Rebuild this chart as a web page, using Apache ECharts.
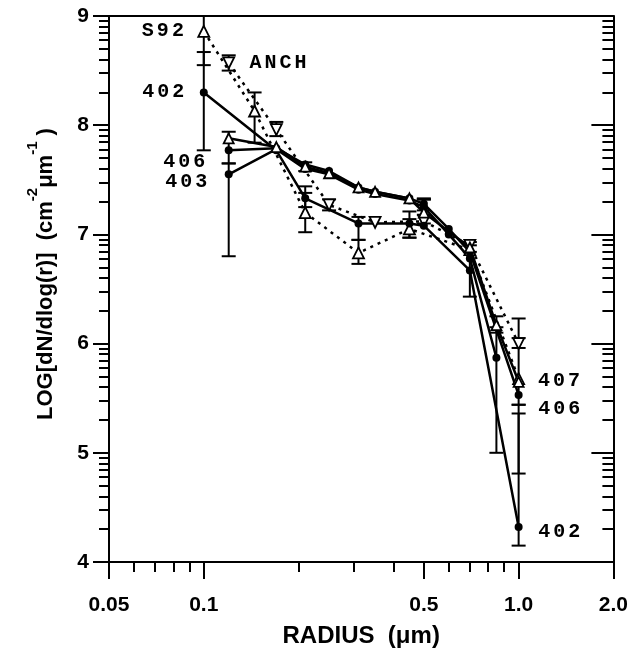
<!DOCTYPE html>
<html>
<head>
<meta charset="utf-8">
<script src="https://cdn.jsdelivr.net/npm/echarts@6.0.0/dist/echarts.min.js"></script>
<style>
  html, body { margin: 0; padding: 0; background: #fff; }
  #chart { width: 631px; height: 654px; }
</style>
</head>
<body>
<div id="chart"></div>
<script>
// axis ticks
const radiusTicks = [0.05, 0.1, 0.5, 1, 2];
const radiusTickLabels = ['0.05', '0.1', '0.5', '1.0', '2.0'];
const radiusMinorTicks = [0.06, 0.07, 0.08, 0.09, 0.2, 0.3, 0.4, 0.6, 0.7, 0.8, 0.9];
const logTicks = [4, 5, 6, 7, 8, 9];

// size distributions [radius um, log dN/dlog(r)]
const s92 = [[0.1, 8.86], [0.145, 8.13], [0.21, 7.2], [0.31, 6.83], [0.45, 7.05], [0.7, 6.86], [1.0, 5.68]];
const anch = [[0.12, 8.57], [0.17, 7.96], [0.25, 7.27], [0.35, 7.11], [0.5, 7.12], [0.7, 6.9], [1.0, 6.0]];
const f402 = [[0.1, 8.30], [0.17, 7.77], [0.21, 7.33], [0.31, 7.10], [0.45, 7.10], [0.5, 7.08], [0.7, 6.67], [1.0, 4.32]];
const f403 = [[0.12, 7.55], [0.17, 7.78], [0.21, 7.60], [0.25, 7.55], [0.31, 7.41], [0.35, 7.37], [0.45, 7.31], [0.5, 7.25], [0.6, 7.0], [0.7, 6.78], [0.85, 5.87]];
const f406 = [[0.12, 7.77], [0.17, 7.79], [0.21, 7.64], [0.25, 7.58], [0.31, 7.43], [0.35, 7.39], [0.45, 7.33], [0.5, 7.28], [0.6, 7.05], [0.7, 6.84], [1.0, 5.53]];
const f407 = [[0.12, 7.88], [0.17, 7.80], [0.21, 7.62], [0.25, 7.56], [0.31, 7.43], [0.35, 7.39], [0.45, 7.33], [0.5, 7.2], [0.7, 6.88], [0.85, 6.17], [1.0, 5.65]];

// error bars [radius, low, high]
const s92Err = [[0.1, 8.55, 9.0], [0.145, 7.84, 8.30], [0.21, 7.02, 7.38], [0.31, 6.73, 6.95], [0.45, 6.97, 7.14]];
const anchErr = [[0.12, 8.50, 8.64], [0.17, 7.90, 8.03], [0.25, 7.22, 7.32], [0.7, 6.84, 6.93], [1.0, 5.96, 6.05]];
const f402Err = [[0.1, 7.77, 8.67], [0.21, 7.25, 7.44], [0.31, 6.95, 7.16], [0.45, 6.97, 7.21], [0.7, 6.43, 6.90], [1.0, 4.15, 5.36]];
const f403Err = [[0.12, 6.80, 7.65], [0.5, 7.18, 7.32], [0.85, 5.00, 6.15]];
const f406Err = [[0.12, 7.65, 7.94], [0.21, 7.58, 7.66], [0.5, 7.22, 7.33], [1.0, 4.81, 5.44]];
const f407Err = [[0.5, 7.10, 7.32], [0.85, 6.10, 6.25], [1.0, 5.44, 6.23]];

// decade-style minor ticks on the log(dN) axis
const logMinorTicks = [];
logTicks.slice(0, -1).forEach(n => {
  for (let k = 2; k <= 9; k++) logMinorTicks.push(n + Math.log10(k));
});

const chart = echarts.init(document.getElementById('chart'));

const tagFont = { fontFamily: 'Liberation Mono', fontWeight: 'bold', fontSize: 20, color: '#000', padding: [0, 1.5, 0, 1.5] };
const spaced = t => t.split('').map(c => '{c|' + c + '}').join('');

// label on first / last point of a curve
function tagged(data, tags) {
  return data.map((p, i) => {
    const t = tags[i === 0 ? 'first' : (i === data.length - 1 ? 'last' : '')];
    if (!t) return p;
    return {
      value: p,
      label: {
        show: true, formatter: spaced(t.text), position: t.pos, distance: t.dist,
        offset: t.off || [0, 0], rich: { c: tagFont }
      }
    };
  });
}

function errRender(params, api) {
  const x = api.value(0);
  const top = api.coord([x, api.value(2)]);
  const bot = api.coord([x, api.value(1)]);
  const w = 7;
  const st = { stroke: '#000', lineWidth: 2 };
  return {
    type: 'group',
    children: [
      { type: 'line', shape: { x1: top[0], y1: top[1], x2: bot[0], y2: bot[1] }, style: st },
      { type: 'line', shape: { x1: top[0] - w, y1: top[1], x2: top[0] + w, y2: top[1] }, style: st },
      { type: 'line', shape: { x1: bot[0] - w, y1: bot[1], x2: bot[0] + w, y2: bot[1] }, style: st }
    ]
  };
}

function errSeries(data) {
  return {
    type: 'custom', renderItem: errRender, data: data, z: 3,
    encode: { x: 0, y: [1, 2] }, silent: true
  };
}

const openMark = { color: '#fff', borderColor: '#000', borderWidth: 1.8 };
const solid = { color: '#000', width: 2.5, type: 'solid' };
const dotted = { color: '#000', width: 2.5, type: [3, 5] };

function curve(name, data, tags, line, symbol, extra) {
  return Object.assign({
    name: name, type: 'line', data: tagged(data, tags), z: 4,
    lineStyle: line, symbol: symbol, symbolSize: 8,
    itemStyle: { color: '#000' }, label: { show: false }
  }, extra || {});
}

const axisLineStyle = { color: '#000', width: 2 };
const tickBase = { lineStyle: { color: '#000', width: 2 } };

chart.setOption({
  animation: false,
  grid: { left: 109, right: 17, top: 16, bottom: 92 },
  xAxis: [
    {
      type: 'log', logBase: 10, min: 0.05, max: 2, position: 'bottom',
      name: 'RADIUS  (μm)', nameLocation: 'middle', nameGap: 62,
      nameTextStyle: { fontFamily: 'Liberation Sans', fontWeight: 'bold', fontSize: 24, color: '#000' },
      axisLine: { show: true, lineStyle: axisLineStyle },
      axisTick: Object.assign({ show: true, inside: false, length: 17, customValues: radiusTicks }, tickBase),
      axisLabel: {
        customValues: radiusTicks, margin: 33, color: '#000',
        fontFamily: 'Liberation Sans', fontWeight: 'bold', fontSize: 21,
        formatter: v => radiusTickLabels[radiusTicks.findIndex(t => Math.abs(t - v) < 1e-6)] || ''
      },
      splitLine: { show: false }
    },
    {
      type: 'log', logBase: 10, min: 0.05, max: 2, position: 'bottom',
      axisLine: { show: false },
      axisTick: Object.assign({ show: true, inside: false, length: 10, customValues: radiusMinorTicks }, tickBase),
      axisLabel: { show: false }, splitLine: { show: false }
    },
    {
      type: 'log', logBase: 10, min: 0.05, max: 2, position: 'top',
      axisLine: { show: true, lineStyle: axisLineStyle },
      axisTick: { show: false }, axisLabel: { show: false }, splitLine: { show: false }
    }
  ],
  yAxis: [
    {
      type: 'value', min: 4, max: 9, interval: 1, position: 'left',
      name: '{a|LOG[dN/dlog(r)]  (cm}{b|-2}{a|μm}{b|-1}{a| )}',
      nameLocation: 'middle', nameRotate: 90, nameGap: 52,
      nameTextStyle: {
        padding: [0, 0, 0, 30],
        rich: {
          a: { fontFamily: 'Liberation Sans', fontWeight: 'bold', fontSize: 22, color: '#000', lineHeight: 32, verticalAlign: 'bottom' },
          b: { fontFamily: 'Liberation Sans', fontWeight: 'bold', fontSize: 15, color: '#000', lineHeight: 15, verticalAlign: 'top' }
        }
      },
      axisLine: { show: true, lineStyle: axisLineStyle },
      axisTick: Object.assign({ show: true, inside: false, length: 16 }, tickBase),
      axisLabel: { margin: 20, color: '#000', fontFamily: 'Liberation Sans', fontWeight: 'bold', fontSize: 21 },
      splitLine: { show: false }
    },
    {
      type: 'value', min: 4, max: 9, position: 'left',
      axisLine: { show: false },
      axisTick: Object.assign({ show: true, inside: false, length: 10, customValues: logMinorTicks }, tickBase),
      axisLabel: { show: false }, splitLine: { show: false }
    },
    {
      type: 'value', min: 4, max: 9, interval: 1, position: 'right',
      axisLine: { show: true, lineStyle: axisLineStyle },
      axisTick: Object.assign({ show: true, inside: true, length: 22 }, tickBase),
      axisLabel: { show: false }, splitLine: { show: false }
    },
    {
      type: 'value', min: 4, max: 9, position: 'right',
      axisLine: { show: false },
      axisTick: Object.assign({ show: true, inside: true, length: 11, customValues: logMinorTicks }, tickBase),
      axisLabel: { show: false }, splitLine: { show: false }
    }
  ],
  series: [
    errSeries(s92Err), errSeries(anchErr), errSeries(f402Err),
    errSeries(f403Err), errSeries(f406Err), errSeries(f407Err),
    curve('S92', s92, { first: { text: 'S92', pos: 'left', dist: 12 } }, dotted, 'triangle',
      { symbolSize: 11, itemStyle: openMark }),
    curve('ANCH', anch, { first: { text: 'ANCH', pos: 'right', dist: 13 } }, dotted, 'triangle',
      { symbolSize: 11, symbolRotate: 180, itemStyle: openMark }),
    curve('402', f402, {
      first: { text: '402', pos: 'left', dist: 14 },
      last: { text: '402', pos: 'right', dist: 14, off: [0, 5] }
    }, solid, 'circle'),
    curve('403', f403, { first: { text: '403', pos: 'left', dist: 16, off: [0, 8] } }, solid, 'circle'),
    curve('406', f406, {
      first: { text: '406', pos: 'left', dist: 18, off: [0, 12] },
      last: { text: '406', pos: 'right', dist: 14, off: [0, 14] }
    }, solid, 'circle'),
    curve('407', f407, { last: { text: '407', pos: 'right', dist: 12, off: [0, -1] } }, solid, 'triangle',
      { symbolSize: 10, itemStyle: openMark })
  ]
});
</script>
</body>
</html>
